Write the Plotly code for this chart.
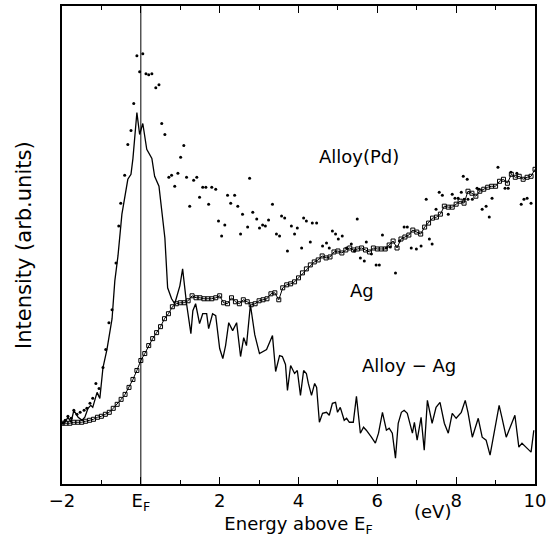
import numpy as np
import plotly.graph_objects as go

# Ag spectrum, sampled every 0.1 eV from -2 to 10
energy_ag = np.round(np.arange(-2.0, 10.05, 0.1), 1)
intensity_ag = [61, 61, 61, 62, 62, 62, 63, 64, 65, 67,
                68, 70, 72, 76, 80, 85, 90, 97, 105, 114,
                124, 131, 139, 146, 152, 158, 166, 171, 178, 181,
                182, 182, 184, 189, 187, 187, 186, 186, 186, 187,
                189, 182, 181, 187, 183, 181, 185, 183, 180, 181,
                184, 185, 186, 191, 192, 185, 197, 200, 201, 203,
                207, 212, 216, 220, 223, 225, 229, 227, 228, 233,
                234, 232, 235, 237, 235, 236, 237, 235, 233, 237,
                236, 236, 236, 240, 244, 237, 246, 248, 250, 255,
                253, 251, 258, 262, 267, 268, 271, 279, 278, 278,
                281, 284, 282, 294, 292, 289, 294, 296, 298, 299,
                299, 304, 306, 302, 311, 308, 309, 306, 308, 309, 316]

# Alloy(Pd) spectrum (dots)
energy_alloy = [-2.00, -1.92, -1.85, -1.77, -1.70, -1.62, -1.54, -1.44, -1.37, -1.29,
                -1.22, -1.14, -1.06, -0.96, -0.89, -0.81, -0.73, -0.63, -0.56, -0.51,
                -0.41, -0.33, -0.25, -0.18, -0.10, -0.03, 0.05, 0.13, 0.20, 0.28,
                0.38, 0.46, 0.53, 0.61, 0.71, 0.78, 0.86, 0.94, 1.01, 1.09,
                1.16, 1.24, 1.34, 1.42, 1.49, 1.57, 1.65, 1.72, 1.80, 1.90,
                1.97, 2.05, 2.13, 2.20, 2.28, 2.38, 2.46, 2.53, 2.58, 2.71,
                2.76, 2.84, 2.94, 3.01, 3.09, 3.16, 3.24, 3.34, 3.44, 3.52,
                3.57, 3.65, 3.72, 3.82, 3.90, 3.97, 4.08, 4.13, 4.20, 4.30,
                4.35, 4.46, 4.61, 4.71, 4.78, 4.86, 4.94, 5.01, 5.11, 5.22,
                5.34, 5.42, 5.49, 5.57, 5.67, 5.72, 5.85, 5.97, 6.05, 6.13,
                6.23, 6.33, 6.46, 6.56, 6.68, 6.76, 6.86, 6.99, 7.11, 7.24,
                7.32, 7.39, 7.49, 7.57, 7.65, 7.80, 7.90, 7.97, 8.05, 8.13,
                8.18, 8.20, 8.28, 8.30, 8.41, 8.53, 8.58, 8.66, 8.76, 8.84,
                8.91, 9.06, 9.24, 9.32, 9.39, 9.54, 9.65, 9.72, 9.80, 9.90]
intensity_alloy = [61, 64, 68, 66, 74, 70, 72, 74, 76, 81,
                   86, 101, 96, 117, 135, 162, 175, 222, 259, 282,
                   310, 341, 355, 382, 430, 414, 432, 412, 411, 412,
                   398, 401, 362, 351, 308, 310, 299, 312, 328, 340,
                   308, 279, 305, 308, 288, 298, 298, 281, 298, 296,
                   264, 249, 260, 290, 282, 290, 279, 251, 271, 258,
                   307, 273, 266, 257, 260, 259, 265, 281, 251, 249,
                   269, 267, 234, 259, 251, 257, 237, 267, 264, 243,
                   262, 262, 239, 242, 237, 254, 251, 246, 249, 237,
                   241, 234, 266, 227, 224, 243, 231, 220, 220, 250,
                   237, 238, 212, 244, 258, 258, 237, 236, 239, 286,
                   246, 241, 276, 293, 290, 271, 291, 287, 287, 293,
                   309, 286, 306, 286, 286, 297, 296, 276, 279, 268,
                   287, 318, 297, 297, 313, 312, 281, 286, 287, 282]

# Alloy - Ag difference (solid line)
energy_diff = [-2.00, -1.92, -1.85, -1.77, -1.70, -1.59, -1.49, -1.42, -1.34, -1.27,
               -1.22, -1.11, -1.04, -0.96, -0.86, -0.78, -0.73, -0.66, -0.58, -0.48,
               -0.41, -0.33, -0.25, -0.20, -0.10, -0.03, 0.05, 0.15, 0.28, 0.35,
               0.46, 0.56, 0.61, 0.68, 0.78, 0.86, 0.99, 1.06, 1.16, 1.27,
               1.32, 1.39, 1.49, 1.57, 1.67, 1.72, 1.82, 1.90, 2.00, 2.08,
               2.15, 2.23, 2.33, 2.43, 2.53, 2.61, 2.68, 2.78, 2.89, 3.01,
               3.19, 3.34, 3.42, 3.52, 3.59, 3.67, 3.72, 3.80, 3.90, 3.97,
               4.05, 4.13, 4.20, 4.25, 4.33, 4.41, 4.46, 4.53, 4.61, 4.71,
               4.78, 4.86, 4.94, 4.99, 5.06, 5.16, 5.22, 5.29, 5.39, 5.47,
               5.57, 5.65, 5.72, 5.85, 5.95, 6.03, 6.13, 6.23, 6.30, 6.38,
               6.46, 6.53, 6.61, 6.68, 6.76, 6.89, 6.94, 7.01, 7.11, 7.19,
               7.27, 7.39, 7.49, 7.59, 7.70, 7.80, 7.90, 8.00, 8.13, 8.23,
               8.30, 8.41, 8.48, 8.56, 8.66, 8.76, 8.86, 8.96, 9.09, 9.16,
               9.27, 9.37, 9.49, 9.59, 9.67, 9.77, 9.90, 9.97]
intensity_diff = [61, 62, 67, 62, 74, 67, 64, 67, 76, 79,
                  77, 92, 86, 117, 135, 153, 166, 204, 229, 271,
                  287, 306, 311, 327, 373, 351, 362, 336, 327, 309,
                  299, 267, 247, 197, 186, 181, 199, 216, 181, 151,
                  174, 181, 161, 171, 171, 156, 171, 169, 136, 126,
                  139, 162, 154, 162, 128, 147, 139, 180, 150, 131,
                  135, 149, 113, 129, 128, 120, 94, 119, 111, 114,
                  89, 114, 111, 101, 89, 101, 97, 62, 71, 72,
                  69, 81, 82, 72, 77, 64, 66, 62, 62, 88,
                  51, 57, 54, 47, 41, 51, 72, 54, 56, 51,
                  26, 61, 72, 74, 71, 51, 62, 44, 67, 34,
                  84, 61, 77, 82, 61, 51, 71, 66, 72, 84,
                  72, 47, 56, 66, 47, 44, 29, 51, 79, 67,
                  47, 57, 69, 37, 41, 37, 32, 54]

tick_vals = [-2, 0, 2, 4, 6, 8, 10]
tick_text = ["\u22122", "E<sub>F</sub>", "2", "4", "6", "8", "10"]

FONT = "DejaVu Sans"

fig = go.Figure()

fig.add_trace(go.Scatter(
    x=energy_diff, y=intensity_diff, mode="lines",
    line=dict(color="black", width=1.3),
    name="Alloy - Ag",
))
fig.add_trace(go.Scatter(
    x=energy_ag, y=intensity_ag, mode="lines+markers",
    line=dict(color="black", width=1),
    marker=dict(symbol="square-open", size=4, color="black", line=dict(width=1)),
    name="Ag",
))
fig.add_trace(go.Scatter(
    x=energy_alloy, y=intensity_alloy, mode="markers",
    marker=dict(symbol="circle", size=3, color="black"),
    name="Alloy(Pd)",
))

# Fermi level
fig.add_vline(x=0, line=dict(color="black", width=1))

labels = [("Alloy(Pd)", 5.54, 329), ("Ag", 5.62, 194), ("Alloy \u2212 Ag", 6.8, 119)]
for txt, lx, ly in labels:
    fig.add_annotation(x=lx, y=ly, text=txt, showarrow=False,
                       font=dict(family=FONT, size=18, color="black"))

fig.add_annotation(x=0, xref="paper", y=0.5, yref="paper", xshift=-38, xanchor="center",
                   text="Intensity (arb.units)", textangle=-90, showarrow=False,
                   font=dict(family=FONT, size=21, color="black"))
fig.add_annotation(x=7.39, y=0, yref="paper", yshift=-15, yanchor="top",
                   text="(eV)", showarrow=False,
                   font=dict(family=FONT, size=18, color="black"))

fig.update_layout(
    width=558, height=560,
    margin=dict(l=62, r=23, t=4, b=76),
    paper_bgcolor="white", plot_bgcolor="white",
    showlegend=False,
    font=dict(family=FONT, size=18, color="black"),
)
fig.update_xaxes(
    range=[-2, 10], tickvals=tick_vals, ticktext=tick_text,
    ticks="inside", ticklen=7, tickwidth=1, tickcolor="black",
    minor=dict(tickvals=[-1, 1, 3, 5, 7, 9], ticks="inside", ticklen=4, tickcolor="black"),
    showline=True, linecolor="black", linewidth=1.5, mirror="allticks",
    showgrid=False, zeroline=False,
    title=dict(text="Energy above E<sub>F</sub>", standoff=4,
               font=dict(family=FONT, size=18)),
)
fig.update_yaxes(
    range=[0, 480], showticklabels=False, ticks="",
    showline=True, linecolor="black", linewidth=1.5, mirror=True,
    showgrid=False, zeroline=False,
)

# the page's default body margin would shift the whole figure
fig.write_html("out.html", config={"displayModeBar": False},
               post_script="document.body.style.margin='0px';")
